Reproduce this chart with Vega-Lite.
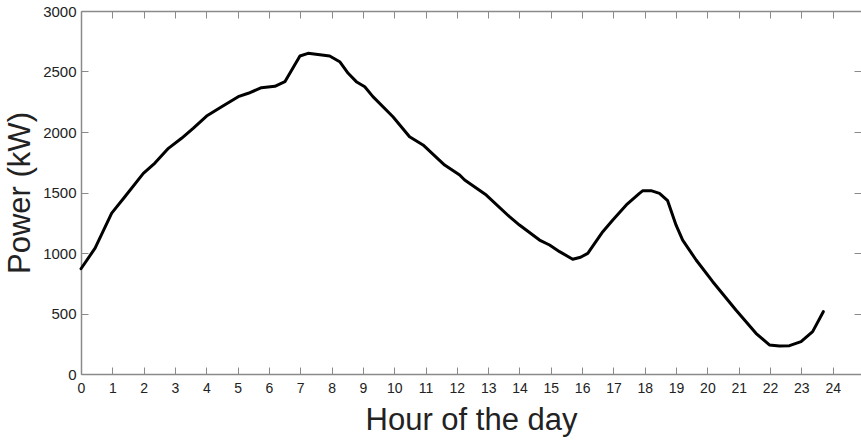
{
  "$schema": "https://vega.github.io/schema/vega-lite/v6.json",
  "width": 780,
  "height": 363,
  "autosize": {"type": "none"},
  "padding": {"left": 81, "top": 11, "right": 0, "bottom": 67},
  "background": "white",
  "config": {
    "view": {"stroke": null},
    "axis": {
      "domainColor": "#8a8a8a",
      "tickColor": "#8a8a8a",
      "labelColor": "#222222",
      "titleColor": "#222222",
      "labelFont": "Liberation Sans",
      "titleFont": "Liberation Sans",
      "labelFontSize": 14,
      "titleFontSize": 31,
      "titleFontWeight": "normal",
      "grid": false,
      "tickSize": -7,
      "domainWidth": 1.5,
      "tickWidth": 1,
      "labelFlush": false,
      "labelOverlap": false
    }
  },
  "data": {
    "values": [
      {"hour": 0, "power": 870},
      {"hour": 0.45, "power": 1040},
      {"hour": 0.98, "power": 1330},
      {"hour": 1.4, "power": 1465},
      {"hour": 1.99, "power": 1658},
      {"hour": 2.36, "power": 1743},
      {"hour": 2.79, "power": 1865},
      {"hour": 3.21, "power": 1948},
      {"hour": 3.58, "power": 2030},
      {"hour": 4.01, "power": 2132},
      {"hour": 4.49, "power": 2209},
      {"hour": 5.02, "power": 2292},
      {"hour": 5.34, "power": 2320},
      {"hour": 5.76, "power": 2366},
      {"hour": 6.19, "power": 2378},
      {"hour": 6.51, "power": 2416},
      {"hour": 6.99, "power": 2628},
      {"hour": 7.25, "power": 2650},
      {"hour": 7.94, "power": 2628},
      {"hour": 8.26, "power": 2581},
      {"hour": 8.53, "power": 2485},
      {"hour": 8.79, "power": 2416},
      {"hour": 9.06, "power": 2374},
      {"hour": 9.32, "power": 2292},
      {"hour": 9.96, "power": 2126},
      {"hour": 10.49, "power": 1961},
      {"hour": 10.92, "power": 1893},
      {"hour": 11.61, "power": 1727},
      {"hour": 12.09, "power": 1645},
      {"hour": 12.25, "power": 1603},
      {"hour": 12.94, "power": 1479},
      {"hour": 13.68, "power": 1300},
      {"hour": 14.0, "power": 1231},
      {"hour": 14.64, "power": 1107},
      {"hour": 14.96, "power": 1066},
      {"hour": 15.28, "power": 1011},
      {"hour": 15.7, "power": 948},
      {"hour": 15.95, "power": 965},
      {"hour": 16.18, "power": 997},
      {"hour": 16.4, "power": 1080},
      {"hour": 16.66, "power": 1176},
      {"hour": 16.98, "power": 1273},
      {"hour": 17.41, "power": 1397},
      {"hour": 17.83, "power": 1493},
      {"hour": 17.94, "power": 1515},
      {"hour": 18.2, "power": 1515},
      {"hour": 18.47, "power": 1493},
      {"hour": 18.73, "power": 1432},
      {"hour": 19.0, "power": 1230},
      {"hour": 19.21, "power": 1107},
      {"hour": 19.64, "power": 942},
      {"hour": 20.17, "power": 763},
      {"hour": 20.91, "power": 529},
      {"hour": 21.55, "power": 336},
      {"hour": 21.98, "power": 240},
      {"hour": 22.3, "power": 231},
      {"hour": 22.62, "power": 234},
      {"hour": 22.99, "power": 267},
      {"hour": 23.36, "power": 350},
      {"hour": 23.7, "power": 515}
    ]
  },
  "layer": [
    {
      "mark": {"type": "line", "color": "black", "strokeWidth": 3, "strokeJoin": "round", "strokeCap": "round"},
      "encoding": {
        "x": {
          "field": "hour", "type": "quantitative",
          "scale": {"domain": [0, 24.904], "nice": false, "zero": false},
          "axis": {"orient": "bottom", "values": [0,1,2,3,4,5,6,7,8,9,10,11,12,13,14,15,16,17,18,19,20,21,22,23,24], "format": "d", "title": "Hour of the day", "labelPadding": 14, "titlePadding": 10}
        },
        "y": {
          "field": "power", "type": "quantitative",
          "scale": {"domain": [0, 3000], "nice": false},
          "axis": {"orient": "left", "values": [0,500,1000,1500,2000,2500,3000], "format": "d", "title": "Power (kW)", "labelFontSize": 15, "labelPadding": 12, "titlePadding": 6}
        }
      }
    },
    {
      "mark": {"type": "line", "opacity": 0},
      "encoding": {
        "x": {
          "field": "hour", "type": "quantitative",
          "scale": {"domain": [0, 24.904], "nice": false, "zero": false},
          "axis": {"orient": "top", "values": [0,1,2,3,4,5,6,7,8,9,10,11,12,13,14,15,16,17,18,19,20,21,22,23,24], "labels": false, "title": null}
        },
        "y": {
          "field": "power", "type": "quantitative",
          "scale": {"domain": [0, 3000], "nice": false},
          "axis": {"orient": "right", "domain": false, "values": [0,500,1000,1500,2000,2500,3000], "labels": false, "title": null}
        }
      }
    }
  ],
  "resolve": {"axis": {"x": "independent", "y": "independent"}}
}
